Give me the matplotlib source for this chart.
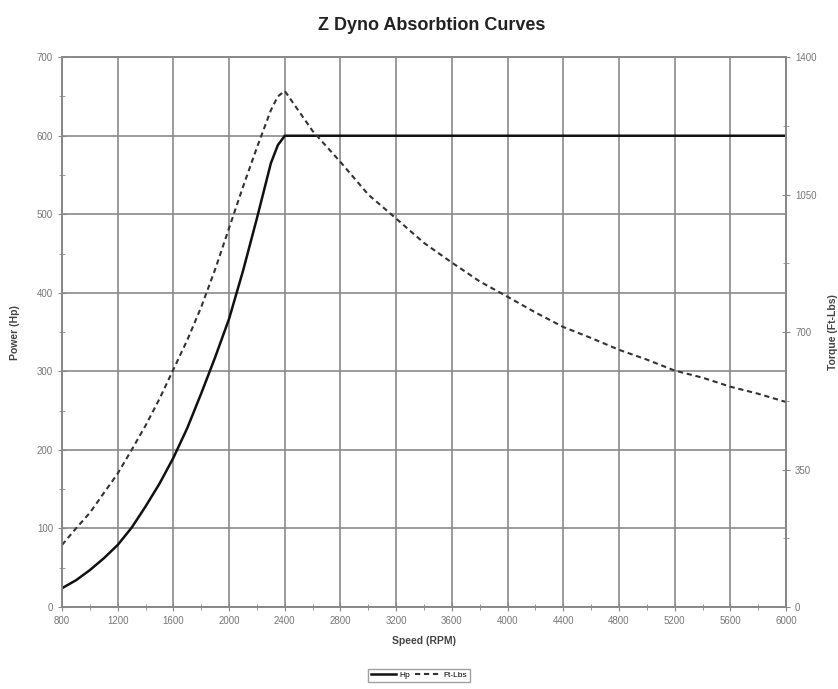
import matplotlib.pyplot as plt
from matplotlib.ticker import MultipleLocator

plt.rcParams['font.family'] = ['Liberation Sans', 'DejaVu Sans']

# values
hp_rpm = [800, 900, 1000, 1100, 1200, 1300, 1400, 1500, 1600, 1700, 1800, 1900,
          2000, 2100, 2200, 2300, 2350, 2400, 6000]
hp = [24, 34, 47, 62, 79, 101, 128, 157, 190, 228, 272, 318,
      367, 428, 495, 565, 588, 600, 600]

tq_rpm = [800, 900, 1000, 1100, 1200, 1300, 1400, 1500, 1600, 1700, 1800, 1900,
          2000, 2100, 2200, 2300, 2350, 2400, 2600, 2800, 3000, 3200, 3400, 3600,
          3800, 4000, 4200, 4400, 4600, 4800, 5000, 5200, 5400, 5600, 5800, 6000]
torque = [158, 200, 240, 290, 340, 400, 462, 530, 605, 680, 764, 860,
          965, 1070, 1170, 1265, 1300, 1314, 1212, 1133, 1050, 989, 927, 877,
          829, 790, 750, 713, 685, 655, 630, 602, 584, 561, 543, 522]

x_ticks = list(range(800, 6001, 400))

fig = plt.figure(figsize=(8.38, 6.89), dpi=100)
ax = fig.add_axes([0.074, 0.119, 0.864, 0.798])
ax2 = ax.twinx()

l1, = ax.plot(hp_rpm, hp, color='#111111', lw=1.8, label='Hp')
l2, = ax2.plot(tq_rpm, torque, color='#333333', lw=1.5, ls=(0, (2.5, 1.8)), label='Ft-Lbs')

ax.set_xlim(800, 6000)
ax.set_ylim(0, 700)
ax2.set_ylim(0, 1400)
ax.set_xticks(x_ticks)
ax.xaxis.set_minor_locator(MultipleLocator(200))
ax.yaxis.set_major_locator(MultipleLocator(100))
ax.yaxis.set_minor_locator(MultipleLocator(50))
ax2.yaxis.set_major_locator(MultipleLocator(350))
ax2.yaxis.set_minor_locator(MultipleLocator(175))

ax.grid(True, which='major', color='#8a8a8a', lw=1.2)
ax.set_axisbelow(True)

for a in (ax, ax2):
    for s in a.spines.values():
        s.set_color('#888888')
        s.set_linewidth(1.2)
    a.tick_params(which='both', colors='#888888', labelcolor='#777777', labelsize=7,
                  direction='inout')
    a.tick_params(which='major', length=6)
    a.tick_params(which='minor', length=4)

ax.set_xlabel('Speed (RPM)', fontsize=7.5, fontweight='bold', color='#444444', labelpad=7)
ax.set_ylabel('Power (Hp)', fontsize=7.5, fontweight='bold', color='#444444', labelpad=12)
ax2.set_ylabel('Torque (Ft-Lbs)', fontsize=7.5, fontweight='bold', color='#444444', labelpad=8)
fig.suptitle('Z Dyno Absorbtion Curves', x=0.515, y=0.975, fontsize=13, fontweight='bold',
             color='#222222', family=['Liberation Sans Narrow', 'Liberation Sans', 'DejaVu Sans'])

fig.legend(handles=[l1, l2], loc='center', bbox_to_anchor=(0.5, 0.02), ncol=2, fontsize=6,
           frameon=True, fancybox=False, edgecolor='#888888', handlelength=3,
           columnspacing=0.6, handletextpad=0.4, borderpad=0.3)

fig.savefig('out.png', dpi=100)
